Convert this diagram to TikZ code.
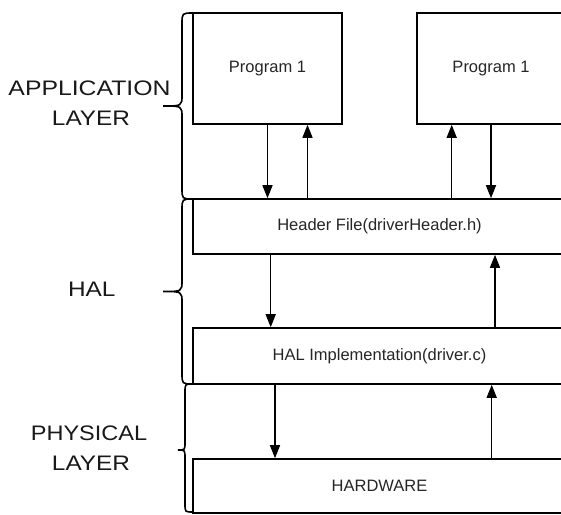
\documentclass[tikz,border=0pt]{standalone}
\usepackage{fontspec}
\usepackage{graphicx}
\setmainfont{Liberation Sans}
\usetikzlibrary{arrows.meta}
\begin{document}
\begin{tikzpicture}[x=1pt,y=-1pt,
  box/.style={draw=black, line width=1.6pt, inner sep=0pt, text=black!85,
    font=\fontsize{16.5}{19}\selectfont},
  arr/.style={draw=black, line width=1.5pt, -{Triangle[length=13pt,width=10pt]}},
  brace/.style={draw=black, line width=1.6pt, line cap=round},
  lbl/.style={anchor=base, text=black!90, inner sep=0pt,
    font=\fontsize{21}{25}\selectfont}]
\fill[white] (0,0) rectangle (561,514);
\useasboundingbox (0,0) rectangle (561,514);
\clip (0,0) rectangle (561,514);

% layer boxes (the wide ones run past the right margin)
\node[box, minimum width=149pt, minimum height=111pt] (p1) at (267.5,68.5) {Program 1};
\node[box, minimum width=148pt, minimum height=111pt] (p2) at (491,68.5) {Program 1};
\node[box, minimum width=373pt, minimum height=55pt] (hdr) at (379.5,226.5) {Header File(driverHeader.h)};
\node[box, minimum width=373pt, minimum height=56pt] (hal) at (379.5,356) {HAL Implementation(driver.c)};
\node[box, minimum width=373pt, minimum height=54pt] (hw) at (379.5,486) {HARDWARE};

% calls between layers
\draw[arr] (p1.south) -- (p1.south |- hdr.north);
\draw[arr] ([xshift=40pt]p1.south |- hdr.north) -- ([xshift=40pt]p1.south);
\draw[arr] (p2.south) -- (p2.south |- hdr.north);
\draw[arr] ([xshift=-39.3pt]p2.south |- hdr.north) -- ([xshift=-39.3pt]p2.south);
\draw[arr] ([xshift=-108.8pt]hdr.south) -- ([xshift=-108.8pt]hal.north);
\draw[arr] ([xshift=115.5pt]hal.north) -- ([xshift=115.5pt]hdr.south);
\draw[arr] ([xshift=-104.5pt]hal.south) -- ([xshift=-104.5pt]hw.north);
\draw[arr] ([xshift=112.2pt]hw.north) -- ([xshift=112.2pt]hal.south);

% curly braces grouping the layers
\draw[brace] (193,13) .. controls (182,13) .. (182,24) -- (182,95)
  .. controls (182,106) .. (163,106) .. controls (182,106) .. (182,117)
  -- (182,188) .. controls (182,199) .. (193,199);
\draw[brace] (193,199) .. controls (182,199) .. (182,210) -- (182,280.5)
  .. controls (182,291.5) .. (163,291.5) .. controls (182,291.5) .. (182,302.5)
  -- (182,373) .. controls (182,384) .. (193,384);
\draw[brace] (193,384) .. controls (185,384) .. (185,392) -- (185,442)
  .. controls (185,450) .. (178,450) .. controls (185,450) .. (185,458)
  -- (185,504) .. controls (185,512) .. (193,512);

% layer names
\node[lbl] (appA) at (89.5,95) {\scalebox{1.18}[1]{APPLICATION}};
\node[lbl] (appB) at (91,125) {\scalebox{1.16}[1]{LAYER}};
\node[lbl] (halL) at (91.7,296.7) {\scalebox{1.16}[1]{HAL}};
\node[lbl] (phyA) at (89,440) {\scalebox{1.12}[1]{PHYSICAL}};
\node[lbl] (phyB) at (91,470) {\scalebox{1.16}[1]{LAYER}};
\end{tikzpicture}
\end{document}
